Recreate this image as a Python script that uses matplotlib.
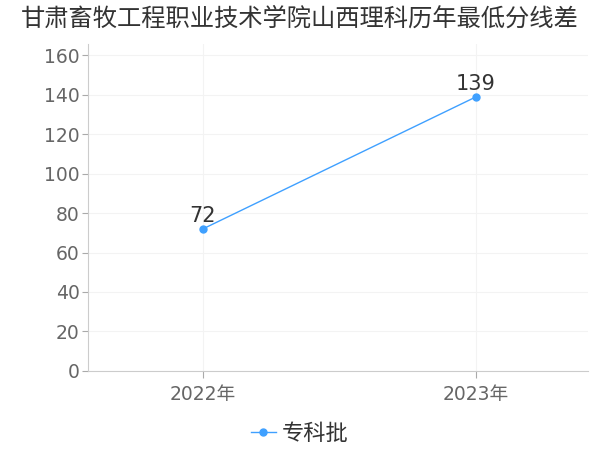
import matplotlib
matplotlib.use("Agg")
import matplotlib.pyplot as plt

plt.rcParams["font.family"] = ["DejaVu Sans", "Noto Sans CJK SC"]

title = "甘肃畜牧工程职业技术学院山西理科历年最低分线差"
years = ["2022年", "2023年"]
scores = [72, 139]
series_name = "专科批"
yticks = [0, 20, 40, 60, 80, 100, 120, 140, 160]

line_color = "#3fa0ff"

fig = plt.figure(figsize=(6, 4.5), dpi=100)
ax = fig.add_axes([0.147, 0.176, 0.833, 0.727])

x = list(range(len(years)))
ax.plot(x, scores, color=line_color, lw=1, marker="o", ms=5, label=series_name)
for xi, v in zip(x, scores):
    ax.annotate(str(v), (xi, v), xytext=(0, 2), textcoords="offset points",
                ha="center", va="bottom", fontsize=15, color="#333333")

ax.set_xlim(-0.42, 1.41)
ax.set_ylim(0, 166)
ax.set_xticks(x)
ax.set_xticklabels(years)
ax.set_yticks(yticks)
ax.tick_params(axis="both", colors="#aaaaaa", labelcolor="#666666", labelsize=13.5)
ax.tick_params(axis="x", length=5, pad=5)
ax.tick_params(axis="y", length=4, pad=2)
ax.grid(True, color="#f3f3f3", lw=0.8)
ax.set_axisbelow(True)
for s in ["top", "right"]:
    ax.spines[s].set_visible(False)
ax.spines["left"].set_color("#cccccc")
ax.spines["bottom"].set_color("#cccccc")

fig.suptitle(title, y=0.985, fontsize=17.5, color="#333333")
fig.legend(loc="lower center", bbox_to_anchor=(0.5, -0.03), frameon=False,
           fontsize=16, handlelength=1.1, handletextpad=0.3, labelcolor="#333333")

fig.savefig("out.png", dpi=100)
